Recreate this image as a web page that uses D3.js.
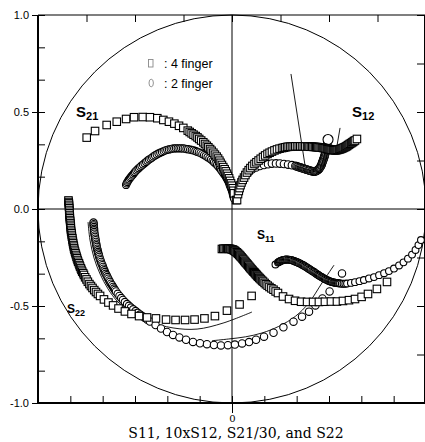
<!DOCTYPE html>
<html><head><meta charset="utf-8">
<script src="https://cdn.jsdelivr.net/npm/d3@7"></script>
<style>body{margin:0;background:#fff}</style>
</head><body>
<svg width="425" height="442"></svg>
<script>
var s21Sq = [[-0.749,0.368],[-0.706,0.402],[-0.646,0.433],[-0.594,0.450],[-0.546,0.464],[-0.505,0.473],[-0.460,0.474],[-0.423,0.473],[-0.385,0.468],[-0.354,0.459],[-0.325,0.450],[-0.297,0.440],[-0.273,0.429],[-0.251,0.418],[-0.228,0.404],[-0.218,0.397],[-0.208,0.390],[-0.198,0.383],[-0.187,0.376],[-0.178,0.369],[-0.169,0.361],[-0.159,0.353],[-0.148,0.344],[-0.139,0.335],[-0.130,0.326],[-0.122,0.318],[-0.113,0.309],[-0.105,0.300],[-0.096,0.290],[-0.088,0.280],[-0.079,0.270],[-0.072,0.260],[-0.065,0.249],[-0.059,0.238],[-0.052,0.227],[-0.045,0.216],[-0.038,0.205],[-0.032,0.194],[-0.026,0.182],[-0.021,0.170],[-0.015,0.158],[-0.010,0.145],[-0.005,0.132],[-0.001,0.120],[0.004,0.107],[0.007,0.094],[0.010,0.081],[0.021,0.046]];
var s21Ci = [[-0.546,0.124],[-0.543,0.132],[-0.539,0.139],[-0.535,0.146],[-0.531,0.152],[-0.526,0.159],[-0.521,0.165],[-0.516,0.172],[-0.510,0.178],[-0.505,0.185],[-0.500,0.191],[-0.494,0.198],[-0.487,0.204],[-0.481,0.210],[-0.474,0.216],[-0.467,0.223],[-0.459,0.229],[-0.451,0.236],[-0.443,0.242],[-0.436,0.249],[-0.428,0.255],[-0.420,0.260],[-0.412,0.265],[-0.405,0.271],[-0.397,0.276],[-0.388,0.281],[-0.379,0.286],[-0.370,0.290],[-0.361,0.294],[-0.352,0.298],[-0.343,0.302],[-0.334,0.305],[-0.325,0.307],[-0.316,0.309],[-0.307,0.311],[-0.298,0.312],[-0.289,0.313],[-0.280,0.313],[-0.271,0.313],[-0.262,0.313],[-0.253,0.312],[-0.244,0.311],[-0.235,0.309],[-0.226,0.308],[-0.216,0.306],[-0.207,0.304],[-0.198,0.302],[-0.189,0.299],[-0.180,0.295],[-0.171,0.292],[-0.162,0.288],[-0.153,0.283],[-0.144,0.278],[-0.135,0.273],[-0.126,0.267],[-0.117,0.261],[-0.108,0.255],[-0.100,0.248],[-0.093,0.241],[-0.085,0.234],[-0.077,0.227],[-0.070,0.218],[-0.062,0.209],[-0.056,0.200],[-0.049,0.191],[-0.043,0.182],[-0.036,0.173],[-0.031,0.164],[-0.026,0.155],[-0.021,0.145],[-0.015,0.134],[-0.012,0.124],[-0.008,0.113],[-0.004,0.103],[0.000,0.093],[0.003,0.083],[0.005,0.072],[0.008,0.063],[0.010,0.054]];
var s12Sq = [[0.026,0.046],[0.031,0.077],[0.035,0.093],[0.039,0.108],[0.044,0.123],[0.049,0.137],[0.055,0.150],[0.062,0.162],[0.069,0.175],[0.077,0.188],[0.086,0.200],[0.095,0.211],[0.105,0.222],[0.116,0.232],[0.126,0.241],[0.137,0.250],[0.148,0.259],[0.160,0.268],[0.171,0.276],[0.183,0.284],[0.194,0.290],[0.206,0.296],[0.219,0.302],[0.232,0.307],[0.245,0.311],[0.258,0.314],[0.267,0.316],[0.275,0.318],[0.284,0.320],[0.292,0.321],[0.301,0.321],[0.309,0.322],[0.318,0.322],[0.326,0.323],[0.335,0.323],[0.344,0.323],[0.352,0.323],[0.361,0.323],[0.370,0.323],[0.378,0.322],[0.387,0.322],[0.394,0.322],[0.400,0.321],[0.407,0.321],[0.414,0.321],[0.421,0.320],[0.428,0.320],[0.434,0.319],[0.440,0.319],[0.446,0.318],[0.452,0.317],[0.458,0.317],[0.464,0.316],[0.469,0.315],[0.474,0.314],[0.479,0.313],[0.484,0.312],[0.490,0.310],[0.495,0.309],[0.500,0.308],[0.505,0.307],[0.510,0.306],[0.515,0.305],[0.521,0.304],[0.526,0.303],[0.531,0.303],[0.536,0.303],[0.541,0.304],[0.546,0.305],[0.552,0.307],[0.557,0.308],[0.562,0.310],[0.567,0.312],[0.572,0.314],[0.577,0.317],[0.583,0.319],[0.588,0.322],[0.593,0.325],[0.598,0.329],[0.603,0.332],[0.608,0.336],[0.614,0.339],[0.619,0.343],[0.624,0.346],[0.629,0.350],[0.634,0.353],[0.644,0.361]];
var s12Ci = [[0.041,0.124],[0.052,0.149],[0.067,0.170],[0.085,0.188],[0.103,0.204],[0.124,0.214],[0.144,0.222],[0.165,0.227],[0.186,0.231],[0.206,0.234],[0.227,0.235],[0.247,0.234],[0.268,0.232],[0.289,0.229],[0.309,0.226],[0.327,0.222],[0.333,0.220],[0.339,0.218],[0.345,0.216],[0.350,0.214],[0.356,0.213],[0.361,0.211],[0.366,0.209],[0.371,0.208],[0.376,0.206],[0.381,0.204],[0.387,0.203],[0.392,0.201],[0.397,0.199],[0.402,0.198],[0.407,0.196],[0.412,0.195],[0.418,0.194],[0.423,0.193],[0.427,0.194],[0.432,0.195],[0.436,0.196],[0.439,0.199],[0.443,0.201],[0.446,0.204],[0.449,0.207],[0.451,0.211],[0.454,0.214],[0.456,0.218],[0.459,0.223],[0.461,0.227],[0.463,0.232],[0.464,0.237],[0.466,0.242],[0.468,0.247],[0.470,0.253],[0.472,0.258],[0.474,0.263],[0.475,0.268],[0.477,0.273],[0.478,0.278],[0.480,0.284],[0.481,0.289],[0.482,0.294],[0.484,0.299],[0.485,0.304],[0.486,0.309],[0.487,0.315],[0.488,0.320],[0.489,0.325],[0.490,0.330],[0.491,0.335],[0.495,0.358]];
var s11Sq = [[-0.052,-0.206],[-0.045,-0.205],[-0.038,-0.205],[-0.031,-0.204],[-0.025,-0.204],[-0.019,-0.205],[-0.013,-0.205],[-0.008,-0.206],[-0.002,-0.208],[0.003,-0.209],[0.007,-0.211],[0.011,-0.214],[0.015,-0.216],[0.019,-0.220],[0.024,-0.223],[0.028,-0.227],[0.032,-0.231],[0.037,-0.236],[0.041,-0.240],[0.045,-0.245],[0.050,-0.250],[0.054,-0.255],[0.058,-0.260],[0.063,-0.266],[0.067,-0.271],[0.071,-0.276],[0.076,-0.281],[0.080,-0.286],[0.084,-0.291],[0.089,-0.297],[0.093,-0.302],[0.097,-0.307],[0.102,-0.312],[0.106,-0.317],[0.110,-0.322],[0.115,-0.326],[0.119,-0.331],[0.123,-0.336],[0.127,-0.340],[0.131,-0.345],[0.135,-0.349],[0.140,-0.354],[0.144,-0.358],[0.149,-0.363],[0.155,-0.369],[0.160,-0.374],[0.168,-0.381],[0.175,-0.388],[0.184,-0.395],[0.193,-0.402],[0.203,-0.409],[0.214,-0.416],[0.225,-0.425],[0.237,-0.433],[0.263,-0.451],[0.294,-0.464],[0.325,-0.473],[0.356,-0.478],[0.387,-0.479],[0.418,-0.479],[0.448,-0.479],[0.479,-0.478],[0.510,-0.477],[0.541,-0.477],[0.572,-0.474],[0.603,-0.470],[0.634,-0.464],[0.668,-0.453],[0.701,-0.438],[0.747,-0.412],[0.799,-0.376]];
var s11Ci = [[0.224,-0.286],[0.237,-0.276],[0.241,-0.273],[0.246,-0.271],[0.250,-0.268],[0.254,-0.266],[0.259,-0.265],[0.263,-0.263],[0.268,-0.262],[0.273,-0.261],[0.278,-0.260],[0.283,-0.260],[0.289,-0.261],[0.294,-0.261],[0.299,-0.262],[0.304,-0.263],[0.309,-0.264],[0.314,-0.266],[0.320,-0.268],[0.325,-0.270],[0.330,-0.272],[0.335,-0.274],[0.340,-0.276],[0.345,-0.279],[0.351,-0.281],[0.356,-0.284],[0.361,-0.287],[0.366,-0.289],[0.371,-0.292],[0.376,-0.295],[0.382,-0.299],[0.387,-0.302],[0.392,-0.305],[0.397,-0.309],[0.402,-0.312],[0.407,-0.315],[0.413,-0.319],[0.418,-0.322],[0.423,-0.325],[0.428,-0.329],[0.433,-0.332],[0.438,-0.336],[0.443,-0.339],[0.448,-0.343],[0.453,-0.346],[0.459,-0.349],[0.464,-0.352],[0.469,-0.355],[0.474,-0.358],[0.479,-0.361],[0.484,-0.364],[0.490,-0.366],[0.495,-0.369],[0.500,-0.371],[0.505,-0.373],[0.510,-0.375],[0.515,-0.376],[0.521,-0.378],[0.526,-0.379],[0.531,-0.380],[0.536,-0.381],[0.541,-0.382],[0.546,-0.383],[0.552,-0.383],[0.557,-0.384],[0.566,-0.385],[0.575,-0.385],[0.584,-0.385],[0.593,-0.384],[0.613,-0.381],[0.634,-0.377],[0.657,-0.372],[0.680,-0.366],[0.706,-0.358],[0.732,-0.351],[0.758,-0.341],[0.784,-0.331],[0.809,-0.320],[0.835,-0.307],[0.861,-0.291],[0.884,-0.275],[0.907,-0.256],[0.928,-0.235],[0.946,-0.211],[0.961,-0.186],[0.974,-0.160]];
var s22Sq = [[-0.843,0.044],[-0.842,0.036],[-0.841,0.029],[-0.840,0.021],[-0.840,0.012],[-0.839,0.004],[-0.839,-0.005],[-0.838,-0.014],[-0.838,-0.022],[-0.837,-0.031],[-0.836,-0.040],[-0.836,-0.048],[-0.835,-0.057],[-0.834,-0.065],[-0.833,-0.074],[-0.832,-0.082],[-0.831,-0.091],[-0.831,-0.099],[-0.830,-0.108],[-0.829,-0.117],[-0.827,-0.125],[-0.826,-0.134],[-0.825,-0.143],[-0.823,-0.151],[-0.822,-0.160],[-0.820,-0.169],[-0.819,-0.177],[-0.817,-0.186],[-0.815,-0.194],[-0.814,-0.203],[-0.812,-0.211],[-0.809,-0.220],[-0.807,-0.228],[-0.804,-0.237],[-0.801,-0.246],[-0.799,-0.254],[-0.796,-0.263],[-0.793,-0.272],[-0.789,-0.280],[-0.786,-0.289],[-0.783,-0.297],[-0.779,-0.306],[-0.776,-0.314],[-0.772,-0.323],[-0.767,-0.331],[-0.763,-0.340],[-0.757,-0.352],[-0.750,-0.363],[-0.743,-0.375],[-0.735,-0.387],[-0.727,-0.397],[-0.719,-0.407],[-0.710,-0.418],[-0.701,-0.428],[-0.691,-0.438],[-0.680,-0.448],[-0.660,-0.466],[-0.637,-0.482],[-0.613,-0.497],[-0.585,-0.513],[-0.552,-0.528],[-0.518,-0.541],[-0.479,-0.552],[-0.438,-0.559],[-0.392,-0.564],[-0.340,-0.570],[-0.291,-0.572],[-0.242,-0.572],[-0.193,-0.570],[-0.142,-0.564],[-0.088,-0.552],[-0.026,-0.524],[0.039,-0.492],[0.101,-0.448]];
var s22Ci = [[-0.714,-0.070],[-0.713,-0.078],[-0.713,-0.085],[-0.712,-0.093],[-0.711,-0.102],[-0.711,-0.110],[-0.710,-0.119],[-0.709,-0.127],[-0.707,-0.136],[-0.706,-0.144],[-0.705,-0.153],[-0.703,-0.161],[-0.702,-0.170],[-0.700,-0.179],[-0.699,-0.187],[-0.697,-0.196],[-0.695,-0.205],[-0.693,-0.213],[-0.691,-0.222],[-0.689,-0.230],[-0.686,-0.239],[-0.684,-0.247],[-0.681,-0.256],[-0.678,-0.264],[-0.675,-0.273],[-0.672,-0.282],[-0.668,-0.290],[-0.665,-0.299],[-0.662,-0.308],[-0.658,-0.316],[-0.655,-0.325],[-0.651,-0.334],[-0.646,-0.342],[-0.642,-0.351],[-0.638,-0.359],[-0.633,-0.368],[-0.629,-0.376],[-0.624,-0.385],[-0.618,-0.393],[-0.613,-0.402],[-0.608,-0.410],[-0.603,-0.417],[-0.598,-0.425],[-0.589,-0.437],[-0.580,-0.448],[-0.571,-0.459],[-0.562,-0.469],[-0.552,-0.480],[-0.541,-0.490],[-0.531,-0.499],[-0.521,-0.508],[-0.509,-0.517],[-0.497,-0.526],[-0.486,-0.535],[-0.474,-0.544],[-0.461,-0.553],[-0.448,-0.562],[-0.436,-0.571],[-0.423,-0.580],[-0.394,-0.598],[-0.366,-0.616],[-0.335,-0.634],[-0.304,-0.649],[-0.271,-0.662],[-0.237,-0.674],[-0.201,-0.685],[-0.165,-0.692],[-0.129,-0.697],[-0.093,-0.701],[-0.057,-0.703],[-0.021,-0.702],[0.015,-0.699],[0.052,-0.693],[0.088,-0.686],[0.124,-0.674],[0.165,-0.658],[0.214,-0.638],[0.265,-0.610],[0.317,-0.581],[0.361,-0.555],[0.397,-0.529],[0.430,-0.497],[0.466,-0.461],[0.503,-0.425],[0.567,-0.332]];

// thin model lines
var fitS12a = [[0.304,0.696],[0.376,0.227]];
var fitS12b = [[0.557,0.418],[0.541,0.325]];
var fitS22Sq = [[-0.742,-0.067],[-0.732,-0.160],[-0.711,-0.253],[-0.680,-0.335],[-0.639,-0.412],[-0.588,-0.479],[-0.515,-0.536],[-0.438,-0.577],[-0.304,-0.613],[-0.180,-0.619],[-0.046,-0.588],[0.103,-0.531]];
var fitS22Ci = [[-0.103,-0.679],[-0.017,-0.670],[0.069,-0.659],[0.155,-0.639],[0.241,-0.605],[0.327,-0.553],[0.396,-0.484],[0.464,-0.381],[0.526,-0.289]];

var yLabelVals = [-1, -0.5, 0, 0.5, 1];
var yTickLabels = ['-1.0', '-0.5', '0.0', '0.5', '1.0'];
var legendNames = [': 4 finger', ': 2 finger'];
var title = 'S11, 10xS12, S21/30, and S22';

var svg = d3.select('svg');
var x = d3.scaleLinear().domain([-1, 1]).range([38, 426]);
var y = d3.scaleLinear().domain([-1, 1]).range([403, 15]);

var sixths = d3.range(-6, 7).map(function(i){ return i / 6; });
var quarters = d3.range(-4, 5).map(function(i){ return i / 4; });

function tidy(g){
    g.select('.domain').remove();
    g.selectAll('line').attr('stroke', '#000').attr('stroke-width', 1);
}

// ticks, all pointing inside except labelled ones
svg.append('g').attr('transform', 'translate(38,0)')
    .call(d3.axisLeft(y).tickValues(sixths).tickSize(-7).tickFormat('')).call(tidy);
svg.append('g').attr('transform', 'translate(38,0)')
    .call(d3.axisLeft(y).tickValues(yLabelVals).tickSize(6).tickPadding(3)
        .tickFormat(function(d, i){ return yTickLabels[i]; }))
    .call(tidy)
    .selectAll('text').attr('font-family', 'Liberation Sans, Arial').attr('font-size', 11).attr('fill', '#000');
svg.append('g').attr('transform', 'translate(0,403)')
    .call(d3.axisBottom(x).tickValues(sixths).tickSize(-7).tickFormat('')).call(tidy);
svg.append('g').attr('transform', 'translate(0,403)')
    .call(d3.axisBottom(x).tickValues([0]).tickSize(10).tickPadding(2).tickFormat(d3.format('d')))
    .call(tidy)
    .selectAll('text').attr('font-family', 'DejaVu Serif, serif').attr('font-size', 10).attr('fill', '#000');
svg.append('g').attr('transform', 'translate(0,15)')
    .call(d3.axisTop(x).tickValues(quarters).tickSize(-7).tickFormat('')).call(tidy);
svg.append('g').attr('transform', 'translate(425,0)')
    .call(d3.axisRight(y).tickValues(quarters).tickSize(-8).tickFormat('')).call(tidy);

// frame
svg.append('line').attr('x1', x(-1)).attr('x2', x(-1)).attr('y1', y(1)).attr('y2', y(-1) + 1)
    .attr('stroke', '#000').attr('stroke-width', 2);
svg.append('line').attr('x1', x(-1) - 1).attr('x2', x(1)).attr('y1', y(-1)).attr('y2', y(-1))
    .attr('stroke', '#000').attr('stroke-width', 2);
svg.append('line').attr('x1', x(-1)).attr('x2', x(1)).attr('y1', y(1)).attr('y2', y(1))
    .attr('stroke', '#000').attr('stroke-width', 1.2);
svg.append('line').attr('x1', 424.5).attr('x2', 424.5).attr('y1', y(1)).attr('y2', y(-1))
    .attr('stroke', '#000').attr('stroke-width', 1);

// cross lines and unit circle
svg.append('line').attr('x1', x(0)).attr('x2', x(0)).attr('y1', y(1)).attr('y2', y(-1))
    .attr('stroke', '#000').attr('stroke-width', 1);
svg.append('line').attr('x1', x(-1)).attr('x2', x(1)).attr('y1', y(0)).attr('y2', y(0))
    .attr('stroke', '#000').attr('stroke-width', 1);
svg.append('circle').attr('cx', x(0)).attr('cy', y(0)).attr('r', x(1) - x(0))
    .attr('fill', 'none').attr('stroke', '#000').attr('stroke-width', 1);

// fit lines
var line = d3.line().x(function(d){ return x(d[0]); }).y(function(d){ return y(d[1]); }).curve(d3.curveCatmullRom);
[fitS12a, fitS12b, fitS22Sq, fitS22Ci].forEach(function(f){
    svg.append('path').attr('d', line(f)).attr('fill', 'none').attr('stroke', '#000').attr('stroke-width', 0.9);
});

// markers
var sq = 7.5;
function squares(data){
    svg.append('g').selectAll('rect').data(data).enter().append('rect')
        .attr('x', function(d){ return x(d[0]) - sq / 2; })
        .attr('y', function(d){ return y(d[1]) - sq / 2; })
        .attr('width', sq).attr('height', sq)
        .attr('fill', '#fff').attr('stroke', '#000').attr('stroke-width', 1.1);
}
function circles(data, r, rLast){
    svg.append('g').selectAll('circle').data(data).enter().append('circle')
        .attr('cx', function(d){ return x(d[0]); })
        .attr('cy', function(d){ return y(d[1]); })
        .attr('r', function(d, i){ return (rLast && i === data.length - 1) ? rLast : r; })
        .attr('fill', '#fff').attr('stroke', '#000').attr('stroke-width', 1.1);
}
circles(s22Ci, 3.7);
squares(s22Sq);
circles(s21Ci, 3.6);
squares(s21Sq);
circles(s12Ci, 3.8, 5);
squares(s12Sq);
squares(s11Sq);
circles(s11Ci, 3.4);

// series labels
function sLabel(px, py, sub, big, small){
    var t = svg.append('text').attr('x', px).attr('y', py)
        .attr('font-family', 'Liberation Sans, Arial, sans-serif').attr('font-weight', 'bold').attr('font-size', big);
    t.append('tspan').text('S');
    t.append('tspan').attr('dy', 3).attr('font-size', small).text(sub);
}
sLabel(76, 117, '21', 15, 11);
sLabel(352, 117, '12', 15, 11);
sLabel(257, 239, '11', 12, 9);
sLabel(67, 313, '22', 12, 9);

// legend
var leg = svg.append('g').attr('transform', 'translate(148,0)');
leg.append('rect').attr('x', 0.5).attr('y', 59.5).attr('width', 4.5).attr('height', 7.5)
    .attr('fill', 'none').attr('stroke', '#888').attr('stroke-width', 0.9);
leg.append('ellipse').attr('cx', 3.2).attr('cy', 83).attr('rx', 2.2).attr('ry', 3.8)
    .attr('fill', 'none').attr('stroke', '#888').attr('stroke-width', 0.9);
leg.selectAll('text.lg').data(legendNames).enter().append('text')
    .attr('x', 16).attr('y', function(d, i){ return 68 + i * 20; })
    .attr('font-family', 'Liberation Sans, Arial').attr('font-size', 12.5)
    .text(function(d){ return d; });

// axis title
svg.append('text').attr('x', 236).attr('y', 438).attr('text-anchor', 'middle')
    .attr('font-family', 'DejaVu Serif, serif').attr('font-size', 14)
    .text(title);
</script>
</body></html>
